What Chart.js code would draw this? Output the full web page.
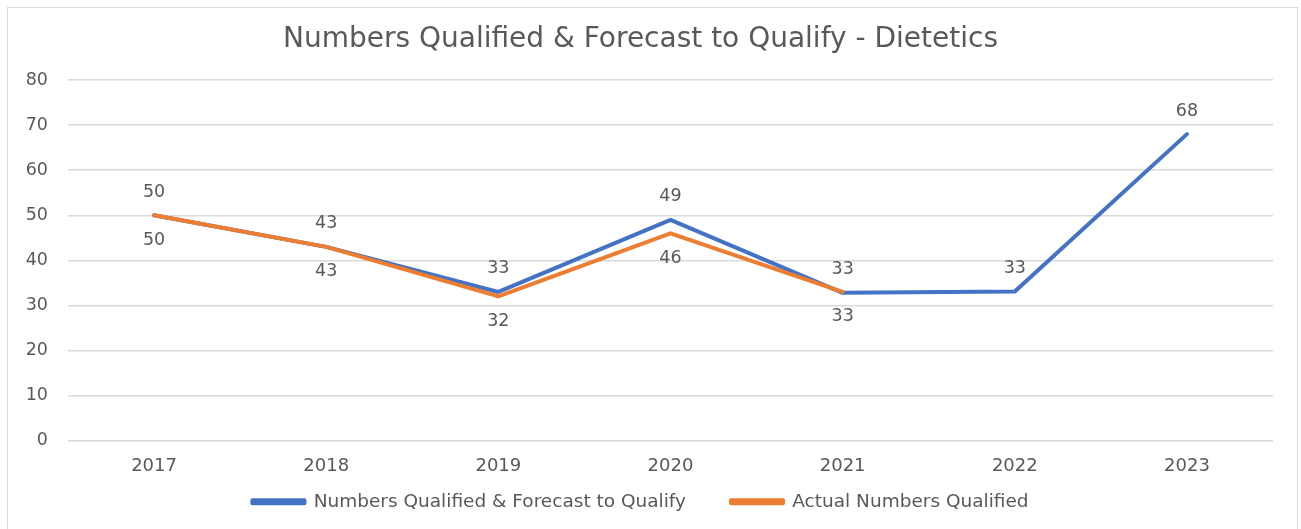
<!DOCTYPE html>
<html>
<head>
<meta charset="utf-8">
<script src="https://cdn.jsdelivr.net/npm/chart.js@4/dist/chart.umd.min.js"></script>
<style>
  html, body { margin: 0; padding: 0; background: #fff; }
  #box { position: absolute; left: 7px; top: 7px; width: 1289px; height: 540px; border: 1px solid #d9d9d9; }
  #box canvas { display: block; }
</style>
</head>
<body>
<div id="box"><canvas id="chart" width="1289" height="516"></canvas></div>
<script>
// Données
const years = ['2017', '2018', '2019', '2020', '2021', '2022', '2023'];
const forecastValues = [50, 43, 33, 49, 32.8, 33.1, 68];
const actualValues = [50, 43, 32, 46, 33, null, null];
const yTicks = [0, 10, 20, 30, 40, 50, 60, 70, 80];

const textColor = '#595959';
const fontName = '"DejaVu Sans", sans-serif';

// Etiquettes des valeurs (au-dessus pour la prévision, en dessous pour le réel)
const valueLabels = {
    id: 'valueLabels',
    afterDatasetsDraw(chart) {
        const ctx = chart.ctx;
        ctx.save();
        ctx.font = '17.5px ' + fontName;
        ctx.fillStyle = textColor;
        ctx.textAlign = 'center';
        ctx.textBaseline = 'middle';
        chart.data.datasets.forEach((ds, i) => {
            const meta = chart.getDatasetMeta(i);
            meta.data.forEach((pt, j) => {
                const v = ds.data[j];
                if (v === null || v === undefined) return;
                const dy = i === 0 ? -23 : 25;
                ctx.fillText(Math.round(v), pt.x, pt.y + dy);
            });
        });
        ctx.restore();
    }
};

const ctx = document.getElementById('chart').getContext('2d');
const chart = new Chart(ctx, {
    type: 'line',
    data: {
        labels: years,
        datasets: [{
            label: 'Numbers Qualified & Forecast to Qualify',
            data: forecastValues,
            borderColor: '#4472C4',
            backgroundColor: '#4472C4',
            borderWidth: 4,
            pointRadius: 0,
            tension: 0,
            order: 1,
            borderCapStyle: 'round',
            borderJoinStyle: 'round',
        }, {
            label: 'Actual Numbers Qualified',
            data: actualValues,
            borderColor: '#ED7D31',
            backgroundColor: '#ED7D31',
            borderWidth: 4,
            pointRadius: 0,
            tension: 0,
            order: 0,
            borderCapStyle: 'round',
            borderJoinStyle: 'round',
        }],
    },
    options: {
        responsive: false,
        animation: false,
        layout: { padding: { left: 0, right: 24, top: 15, bottom: 3 } },
        plugins: {
            title: {
                display: true,
                text: 'Numbers Qualified & Forecast to Qualify - Dietetics',
                color: textColor,
                font: { family: fontName, size: 28, weight: 'normal' },
                padding: { top: 0, bottom: 23.4 },
            },
            legend: {
                position: 'bottom',
                labels: {
                    color: textColor,
                    font: { family: fontName, size: 18.5 },
                    boxWidth: 52,
                    boxHeight: 3,
                    padding: 45,
                    sort: (a, b) => a.datasetIndex - b.datasetIndex,
                },
            },
            tooltip: { enabled: false },
        },
        scales: {
            x: {
                offset: true,
                grid: { display: false },
                border: { display: false },
                ticks: { color: textColor, font: { family: fontName, size: 18 }, padding: 7 },
                // la légende remonte sous les années (sans couper les étiquettes)
                afterFit: axis => {
                    axis.height = 6.75;
                    axis._computeLabelArea = () => null;
                },
            },
            y: {
                min: 0,
                max: 80,
                afterBuildTicks: axis => { axis.ticks = yTicks.map(v => ({ value: v })); },
                afterFit: axis => { axis.width = 60; },
                grid: { color: '#d9d9d9', lineWidth: 1.5, drawTicks: false },
                border: { display: false },
                ticks: { color: textColor, font: { family: fontName, size: 17.5 }, padding: 20 },
            },
        },
    },
    plugins: [valueLabels],
});
</script>
</body>
</html>
